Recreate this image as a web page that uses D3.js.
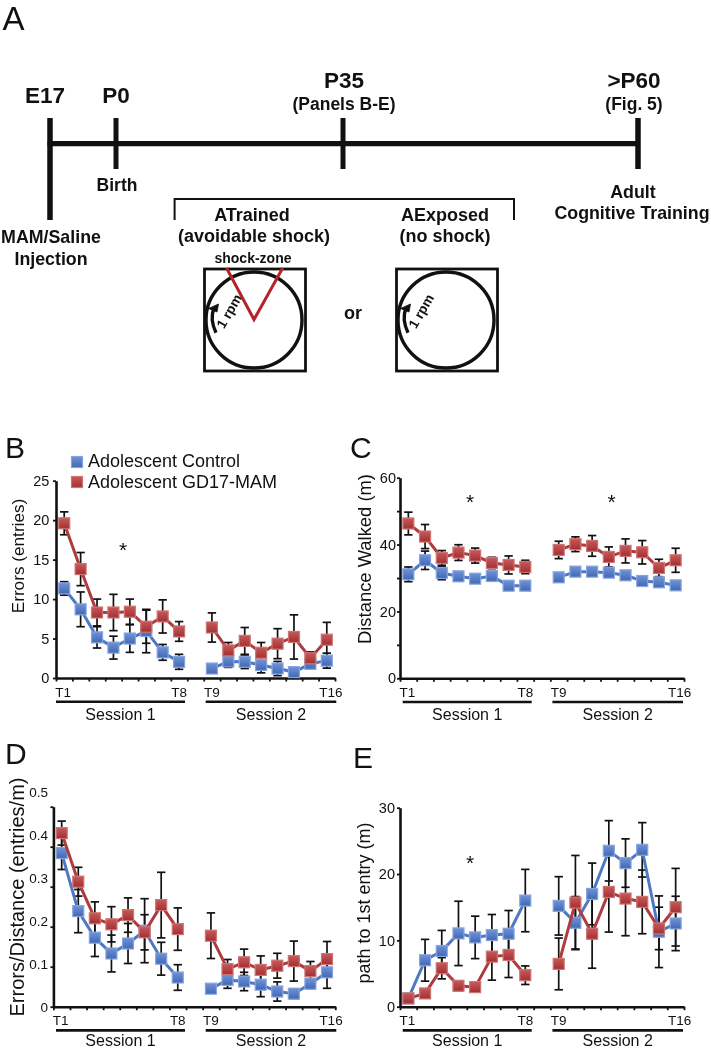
<!DOCTYPE html>
<html><head><meta charset="utf-8">
<script src="https://cdn.jsdelivr.net/npm/d3@7"></script>
<style>
html,body{margin:0;padding:0;background:#fff}
svg{display:block;filter:blur(0.45px)}
text{font-family:"Liberation Sans",Arial,sans-serif;fill:#111}
</style></head><body><svg id="c" width="711" height="1050"></svg>
<script>
const trials=d3.range(16);
const trialLabels=["T1","T8","T9","T16"];
const sessions=["Session 1","Session 2"];
const legendNames=["Adolescent Control","Adolescent GD17-MAM"];

const errorsControl=[11.35,8.7,5.15,3.85,5,5.95,3.25,2.05,1.2,2.1,2.05,1.65,1.2,0.75,1.8,2.2];
const errorsControlSem=[0.85,2.2,1.35,1.45,1.75,2.75,1,0.95,0.3,0.75,0.85,1,0.9,0.3,0.4,0.95];
const errorsMam=[19.6,13.8,8.3,8.3,8.4,6.5,7.8,5.9,6.4,3.5,4.7,3.2,4.35,5.2,2.5,4.85];
const errorsMamSem=[1.45,2.1,1.7,2.3,1.6,2.1,2.1,1.25,1.85,1,1.7,1.3,1.9,2.8,0.8,2.2];

const distanceControl=[31.1,35.3,31.5,30.5,29.8,30.6,27.7,27.7,30.2,31.9,31.9,31.6,30.8,29.1,28.7,27.8];
const distanceControlSem=[2.2,2.75,2,1,1,1,1,1,1,1,1,1,1,1,1,1];
const distanceMam=[46.3,42.4,36,37.6,36.7,34.5,33.9,33.3,38.4,40.1,39.6,36.3,38.1,37.7,33,35.3];
const distanceMamSem=[3.4,3.6,2.2,2.35,2.25,1.7,2.7,2,2.6,2.2,3.1,3,3.6,3.5,2.6,3.6];

const ratioControl=[.384,.239,.1725,.133,.158,.19,.12,.073,.045,.067,.063,.055,.038,.0325,.0575,.086];
const ratioControlSem=[.041,.054,.047,.046,.05,.08,.041,.032,.005,.021,.023,.03,.024,.012,.012,.04];
const ratioMam=[.434,.3125,.221,.206,.229,.186,.254,.194,.1775,.094,.111,.092,.1025,.114,.089,.119];
const ratioMamSem=[.03,.036,.041,.044,.043,.044,.082,.053,.057,.024,.033,.035,.031,.05,.024,.044];

const pathControl=[1.25,7,8.4,11.05,10.45,10.8,11,16,15.2,12.65,17,23.5,21.65,23.65,11.3,12.55];
const pathControlSem=[0.2,3.15,3.1,4.85,3.2,3.1,3.5,4.7,4.4,3.95,4.65,4.55,3.65,4.1,5.4,4.1];
const pathMam=[1.25,2,5.8,3.15,2.95,7.55,7.8,4.75,6.45,15.7,11,17.3,16.3,15.8,11.8,15];
const pathMamSem=[0.2,0.3,1.6,0.3,0.3,3.55,3.4,1.4,3.9,7.1,5.2,6.05,5.6,4.8,3.2,5.85];

const blue="#4f78c4", red="#ae3b3e";
const svg=d3.select("#c");
const defs=svg.append("defs");
function grad(id,a,b){
  const g=defs.append("linearGradient").attr("id",id).attr("x1",0).attr("y1",0).attr("x2",0).attr("y2",1);
  g.append("stop").attr("offset","0%").attr("stop-color",a);
  g.append("stop").attr("offset","100%").attr("stop-color",b);
}
grad("gb","#6f93d6","#4168b4");
grad("gr","#c75a5a","#a22f33");

function T(t,x,y,size,o={}){
  const el=svg.append("text").attr("x",x).attr("y",y).attr("font-size",size)
   .attr("text-anchor",o.anchor||"middle").attr("font-weight",o.bold?"bold":"normal").text(t);
  if(o.rot!==undefined) el.attr("transform",`rotate(${o.rot},${x},${y})`);
  if(o.fill) el.style("fill",o.fill);
  return el;
}
function L(x1,y1,x2,y2,w,c="#111"){
  svg.append("line").attr("x1",x1).attr("y1",y1).attr("x2",x2).attr("y2",y2).attr("stroke",c).attr("stroke-width",w);
}
function marker(g,x,y,fillId,edge){
  g.append("rect").attr("x",x-5.5).attr("y",y-5.5).attr("width",11).attr("height",11)
   .attr("fill",`url(#${fillId})`).attr("stroke",edge).attr("stroke-width",1.2);
}

/* Panel A */
T("A",2.5,30,33,{anchor:"start"});
L(47.5,143.7,640,143.7,5.2);
L(50,118,50,220,5.5);L(116,118,116,169,5);L(343,118,343,169,5);L(638,118,638,169,5.5);
T("E17",45,103.3,22.5,{bold:1});T("P0",116,103.3,22.5,{bold:1});
T("P35",344,88,22.5,{bold:1});T(">P60",634,88,22.5,{bold:1});
T("(Panels B-E)",344,110,17.5,{bold:1});T("(Fig. 5)",634,110,17.5,{bold:1});
T("Birth",117,191,17.5,{bold:1});
T("Adult",633,198,17.8,{bold:1});T("Cognitive Training",632,219,17.8,{bold:1});
T("MAM/Saline",51,243,17.8,{bold:1});T("Injection",51,265,17.8,{bold:1});
svg.append("path").attr("d","M174.6,220V199H514V220").attr("fill","none").attr("stroke","#111").attr("stroke-width",2);
T("ATrained",252,221,18,{bold:1});T("(avoidable shock)",254,242,18,{bold:1});
T("AExposed",445,221,18,{bold:1});T("(no shock)",445,242,18,{bold:1});
T("shock-zone",253,263,14,{bold:1});
T("or",353,319,18,{bold:1});
[0,192].forEach(dx=>{
  svg.append("rect").attr("x",204.5+dx).attr("y",269).attr("width",101).attr("height",102)
    .attr("fill","none").attr("stroke","#111").attr("stroke-width",2.8);
  svg.append("circle").attr("cx",254+dx).attr("cy",320).attr("r",48).attr("fill","none").attr("stroke","#111").attr("stroke-width",3.4);
  svg.append("path").attr("d",`M${216+dx},332.7Q${209.5+dx},319 ${214+dx},308`).attr("fill","none").attr("stroke","#111").attr("stroke-width",3.4);
  svg.append("path").attr("d",`M${208.5+dx},308.5L${218.5+dx},304L${217+dx},312Z`).attr("fill","#111").attr("stroke","#111").attr("stroke-width",.8);
  T("1 rpm",0,0,13.5,{bold:1,anchor:"start"}).attr("transform",`translate(${224+dx},329.5) rotate(-60)`);
});
svg.append("path").attr("d","M226.5,268L254,319.5L282.7,268").attr("fill","none").attr("stroke","#b5232b").attr("stroke-width",3);

/* Panels B-E */
function panel(p){
  const x=d3.scaleLinear().domain([0,17]).range([p.x0,p.x1]);
  const y=d3.scaleLinear().domain([0,p.max]).range([p.y0,p.yTop]);
  const lab=d3.scaleLinear().domain([0,p.max]).range([p.y0,p.yTop-(p.labelRise||0)]);
  const tx=i=>x(i+(i>=8?1.5:.5));
  // axes
  const ay=svg.append("g").attr("transform",`translate(${p.x0},0)`).call(d3.axisLeft(y).tickValues(p.minor).tickSize(3).tickFormat("").tickSizeOuter(0));
  const ax=svg.append("g").attr("transform",`translate(0,${p.y0})`).call(d3.axisBottom(x).tickValues(d3.range(0,18)).tickSize(3.5).tickFormat("").tickSizeOuter(0));
  [ax,ay].forEach(a=>{a.selectAll("path").attr("stroke","#111").attr("stroke-width",2.6);a.selectAll("line").attr("stroke","#111").attr("stroke-width",1.8);});
  const al=svg.append("g").attr("transform",`translate(${p.x0-p.labelGap},0)`).call(d3.axisLeft(lab).tickValues(p.ticks).tickSize(0).tickPadding(0).tickFormat(p.fmt));
  al.select("path").remove();
  al.selectAll("text").attr("font-size",p.labelSize).style("font-family",'"Liberation Sans"').style("fill","#111");
  // y label
  T(p.ylabel,p.ylabX,p.ylabY,p.ylabSize,{rot:-90});
  // bottom labels
  const ly=p.y0+18.5;
  T(trialLabels[0],tx(0)-1,ly,13.5);T(trialLabels[1],tx(7),ly,13.5);T(trialLabels[2],tx(8),ly,13.5);T(trialLabels[3],tx(15)+4,ly,13.5);
  const by=p.y0+23.7;
  L(p.barX,by,p.barX+129,by,2.6);L(p.barX+149.7,by,p.barX+280.3,by,2.6);
  T(sessions[0],p.barX+64.5,p.sessionY,16);T(sessions[1],p.barX+215,p.sessionY,16);
  // stars
  p.stars.forEach(s=>T("*",s[0],s[1]+11.5,21));
  // error bars + series
  const line=d3.line().x(d=>tx(d.i)).y(d=>y(d.v));
  const all=[{vals:p.ctrl,sem:p.ctrlSem},{vals:p.mam,sem:p.mamSem}];
  const eg=svg.append("g");
  all.forEach(s=>{
    trials.forEach(i=>{
      const v=s.vals[i],e=s.sem[i],X=tx(i);
      eg.append("line").attr("x1",X).attr("x2",X).attr("y1",y(v+e)).attr("y2",y(Math.max(0,v-e))).attr("stroke","#111").attr("stroke-width",1.7);
      [v+e,Math.max(0,v-e)].forEach(w=>eg.append("line").attr("x1",X-4.2).attr("x2",X+4.2).attr("y1",y(w)).attr("y2",y(w)).attr("stroke","#111").attr("stroke-width",1.7));
    });
  });
  [{vals:p.ctrl,c:blue,g:"gb",e:"#86a5df"},{vals:p.mam,c:red,g:"gr",e:"#cf7472"}].forEach(s=>{
    const g=svg.append("g");
    [trials.slice(0,8),trials.slice(8)].forEach(seg=>{
      g.append("path").attr("d",line(seg.map(i=>({i,v:s.vals[i]})))).attr("fill","none").attr("stroke",s.c).attr("stroke-width",3);
    });
    trials.forEach(i=>marker(g,tx(i),y(s.vals[i]),s.g,s.e));
  });
}
panel({x0:56,x1:335,y0:678,yTop:480.7,max:25,ticks:[0,5,10,15,20,25],minor:[0,5,10,15,20,25],fmt:d3.format("d"),
  labelGap:6.7,labelSize:14.5,barX:56,sessionY:720,
  ylabel:"Errors (entries)",ylabX:24,ylabY:556,ylabSize:17.2,stars:[[123,545]],
  ctrl:errorsControl,ctrlSem:errorsControlSem,mam:errorsMam,mamSem:errorsMamSem});
panel({x0:400,x1:684,y0:678.3,yTop:477.7,max:60,ticks:[0,20,40,60],minor:[0,10,20,30,40,50,60],fmt:d3.format("d"),
  labelGap:4,labelSize:14.5,barX:402.7,sessionY:720,
  ylabel:"Distance Walked (m)",ylabX:370.7,ylabY:559,ylabSize:18.4,stars:[[470,497],[611.7,497]],
  ctrl:distanceControl,ctrlSem:distanceControlSem,mam:distanceMam,mamSem:distanceMamSem});
panel({x0:53.4,x1:335.3,y0:1006.7,yTop:806.7,max:.5,labelRise:15,ticks:[0,.1,.2,.3,.4,.5],minor:[0,.1,.2,.3,.4,.5],fmt:d=>d===0?"0":d3.format(".1f")(d),
  labelGap:5.4,labelSize:13.5,barX:56,sessionY:1046,
  ylabel:"Errors/Distance (entries/m)",ylabX:24,ylabY:897,ylabSize:20,stars:[],
  ctrl:ratioControl,ctrlSem:ratioControlSem,mam:ratioMam,mamSem:ratioMamSem});
panel({x0:400,x1:684,y0:1006.7,yTop:807.7,max:30,ticks:[0,10,20,30],minor:[0,10,20,30],fmt:d3.format("d"),
  labelGap:5,labelSize:14.5,barX:402.7,sessionY:1046,
  ylabel:"path to 1st entry (m)",ylabX:370,ylabY:903,ylabSize:18,stars:[[470,858]],
  ctrl:pathControl,ctrlSem:pathControlSem,mam:pathMam,mamSem:pathMamSem});

/* panel letters and legend */
T("B",5,458,30,{anchor:"start"});T("C",350,458,30,{anchor:"start"});
T("D",5,764,30,{anchor:"start"});T("E",353,768,30,{anchor:"start"});
const lg=svg.append("g");
marker(lg,77,462,"gb","#86a5df");marker(lg,77,482,"gr","#cf7472");
T(legendNames[0],88,467,18,{anchor:"start"});T(legendNames[1],88,488,18,{anchor:"start"});
</script></body></html>
